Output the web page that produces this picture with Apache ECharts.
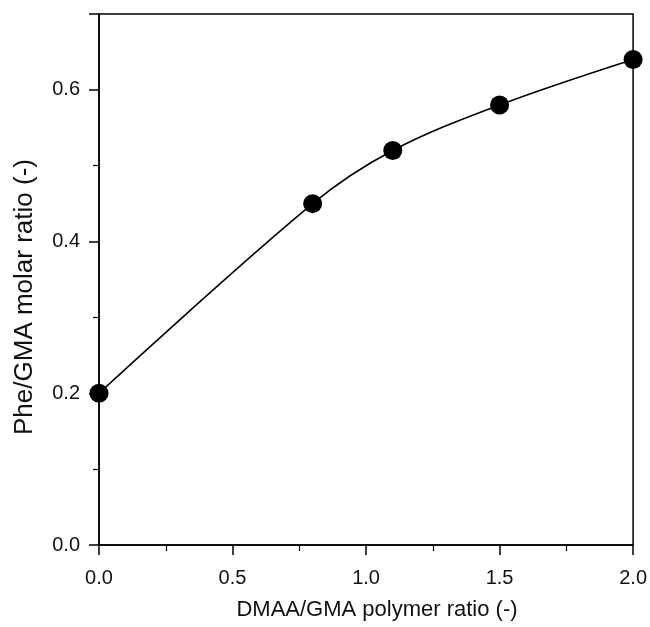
<!DOCTYPE html>
<html>
<head>
<meta charset="utf-8">
<script src="https://cdn.jsdelivr.net/npm/echarts@6/dist/echarts.min.js"></script>
<style>html,body{margin:0;padding:0;background:#fff}#c{width:650px;height:627px}</style>
</head>
<body>
<div id="c"></div>
<script>
const xValues = [0.0, 0.8, 1.1, 1.5, 2.0];
const yValues = [0.20, 0.45, 0.52, 0.58, 0.64];
const xTitle = 'DMAA/GMA polymer ratio (-)';
const yTitle = 'Phe/GMA molar ratio (-)';

const data = xValues.map((x, i) => [x, yValues[i]]);
const font = 'Liberation Sans, Arial, sans-serif';
const chart = echarts.init(document.getElementById('c'), null, {renderer: 'canvas'});
chart.setOption({
  animation: false,
  backgroundColor: '#fff',
  grid: {left: 99, right: 15, top: 14, bottom: 82, show: true, borderColor: '#000', borderWidth: 1.5, backgroundColor: 'transparent'},
  graphic: [
    {type: 'text', x: 377, y: 610, style: {text: xTitle, font: '22px ' + font, fill: '#111', align: 'center', verticalAlign: 'middle'}},
    {type: 'text', x: 25, y: 297, rotation: Math.PI / 2, style: {text: yTitle, font: '26px ' + font, fill: '#111', align: 'center', verticalAlign: 'middle'}}
  ],
  xAxis: {
    type: 'value', min: 0, max: 2, interval: 0.5,
    axisLine: {show: true, onZero: false, lineStyle: {color: '#000', width: 1.5}},
    axisTick: {show: true, inside: false, length: 10, lineStyle: {color: '#000', width: 1.5}},
    minorTick: {show: true, splitNumber: 2, length: 6, lineStyle: {color: '#000', width: 1.2}},
    splitLine: {show: false},
    axisLabel: {fontFamily: font, fontSize: 20, color: '#111', margin: 23, formatter: v => v.toFixed(1)}
  },
  yAxis: {
    type: 'value', min: 0, max: 0.7, interval: 0.2,
    axisLine: {show: true, onZero: false, lineStyle: {color: '#000', width: 1.5}},
    axisTick: {show: true, inside: false, length: 10, lineStyle: {color: '#000', width: 1.5}},
    minorTick: {show: true, splitNumber: 2, length: 6, lineStyle: {color: '#000', width: 1.2}},
    splitLine: {show: false},
    axisLabel: {fontFamily: font, fontSize: 20, color: '#111', margin: 19, showMaxLabel: false, formatter: v => v.toFixed(1)}
  },
  series: [{
    type: 'line', data: data, smooth: 0.35,
    symbol: 'circle', symbolSize: 19,
    lineStyle: {color: '#000', width: 1.6},
    itemStyle: {color: '#000'},
    clip: false
  }]
});
</script>
</body>
</html>
